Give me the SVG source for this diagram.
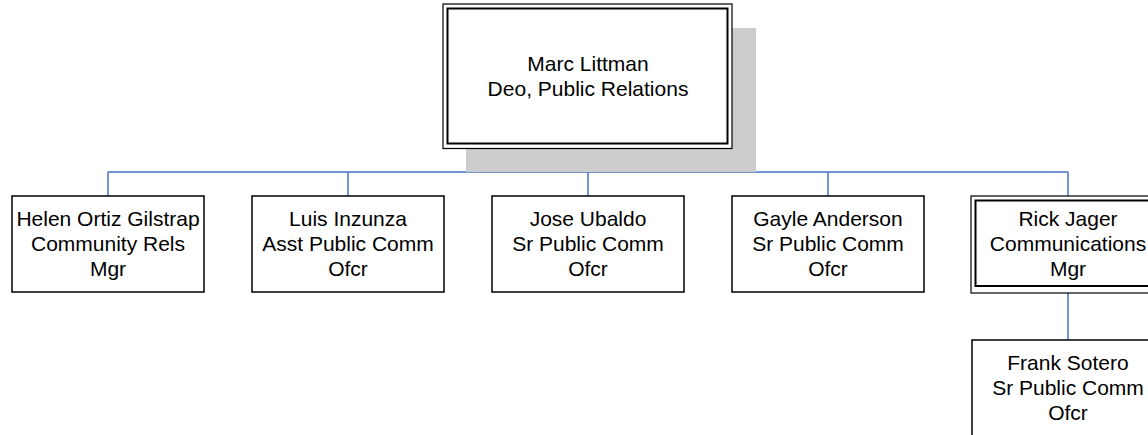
<svg xmlns="http://www.w3.org/2000/svg" width="1148" height="435" viewBox="0 0 1148 435">
<style>
.box{fill:#fff;stroke:#000;stroke-width:1.5}
.outer{fill:#fff;stroke:#000;stroke-width:1.2}
.inner{fill:none;stroke:#000;stroke-width:2}
.conn{fill:none;stroke:#4472C4;stroke-width:1.5}
text{font-family:"Liberation Sans",Arial,sans-serif;font-size:21px;fill:#000;text-anchor:middle}
</style>
<rect width="1148" height="435" fill="#fff"/>
<g id="connectors">
<line class="conn" x1="588" y1="148" x2="588" y2="172"/>
<line class="conn" x1="108" y1="172" x2="1068" y2="172"/>
<line class="conn" x1="108" y1="172" x2="108" y2="196"/>
<line class="conn" x1="348" y1="172" x2="348" y2="196"/>
<line class="conn" x1="588" y1="172" x2="588" y2="196"/>
<line class="conn" x1="828" y1="172" x2="828" y2="196"/>
<line class="conn" x1="1068" y1="172" x2="1068" y2="196"/>
<line class="conn" x1="1068" y1="293" x2="1068" y2="340"/>
</g>
<g id="marc">
<rect x="466" y="28" width="290" height="144" fill="#cccccc"/>
<rect class="outer" x="443" y="4" width="289" height="144.5"/>
<rect class="inner" x="447.5" y="8.5" width="280" height="135"/>
<text x="588" y="71">Marc Littman</text>
<text x="588" y="96">Deo, Public Relations</text>
</g>
<g id="helen">
<rect class="box" x="12" y="196" width="192" height="96"/>
<text x="108" y="226">Helen Ortiz Gilstrap</text>
<text x="108" y="251">Community Rels</text>
<text x="108" y="276">Mgr</text>
</g>
<g id="luis">
<rect class="box" x="252" y="196" width="192" height="96"/>
<text x="348" y="226">Luis Inzunza</text>
<text x="348" y="251">Asst Public Comm</text>
<text x="348" y="276">Ofcr</text>
</g>
<g id="jose">
<rect class="box" x="492" y="196" width="192" height="96"/>
<text x="588" y="226">Jose Ubaldo</text>
<text x="588" y="251">Sr Public Comm</text>
<text x="588" y="276">Ofcr</text>
</g>
<g id="gayle">
<rect class="box" x="732" y="196" width="192" height="96"/>
<text x="828" y="226">Gayle Anderson</text>
<text x="828" y="251">Sr Public Comm</text>
<text x="828" y="276">Ofcr</text>
</g>
<g id="rick">
<rect class="outer" x="971" y="196" width="194" height="97"/>
<rect class="inner" x="975.5" y="200.5" width="185" height="85.5"/>
<text x="1068" y="226">Rick Jager</text>
<text x="1068" y="251">Communications</text>
<text x="1068" y="276">Mgr</text>
</g>
<g id="frank">
<rect class="box" x="972" y="340" width="192" height="110"/>
<text x="1068" y="370">Frank Sotero</text>
<text x="1068" y="395">Sr Public Comm</text>
<text x="1068" y="420">Ofcr</text>
</g>
</svg>
